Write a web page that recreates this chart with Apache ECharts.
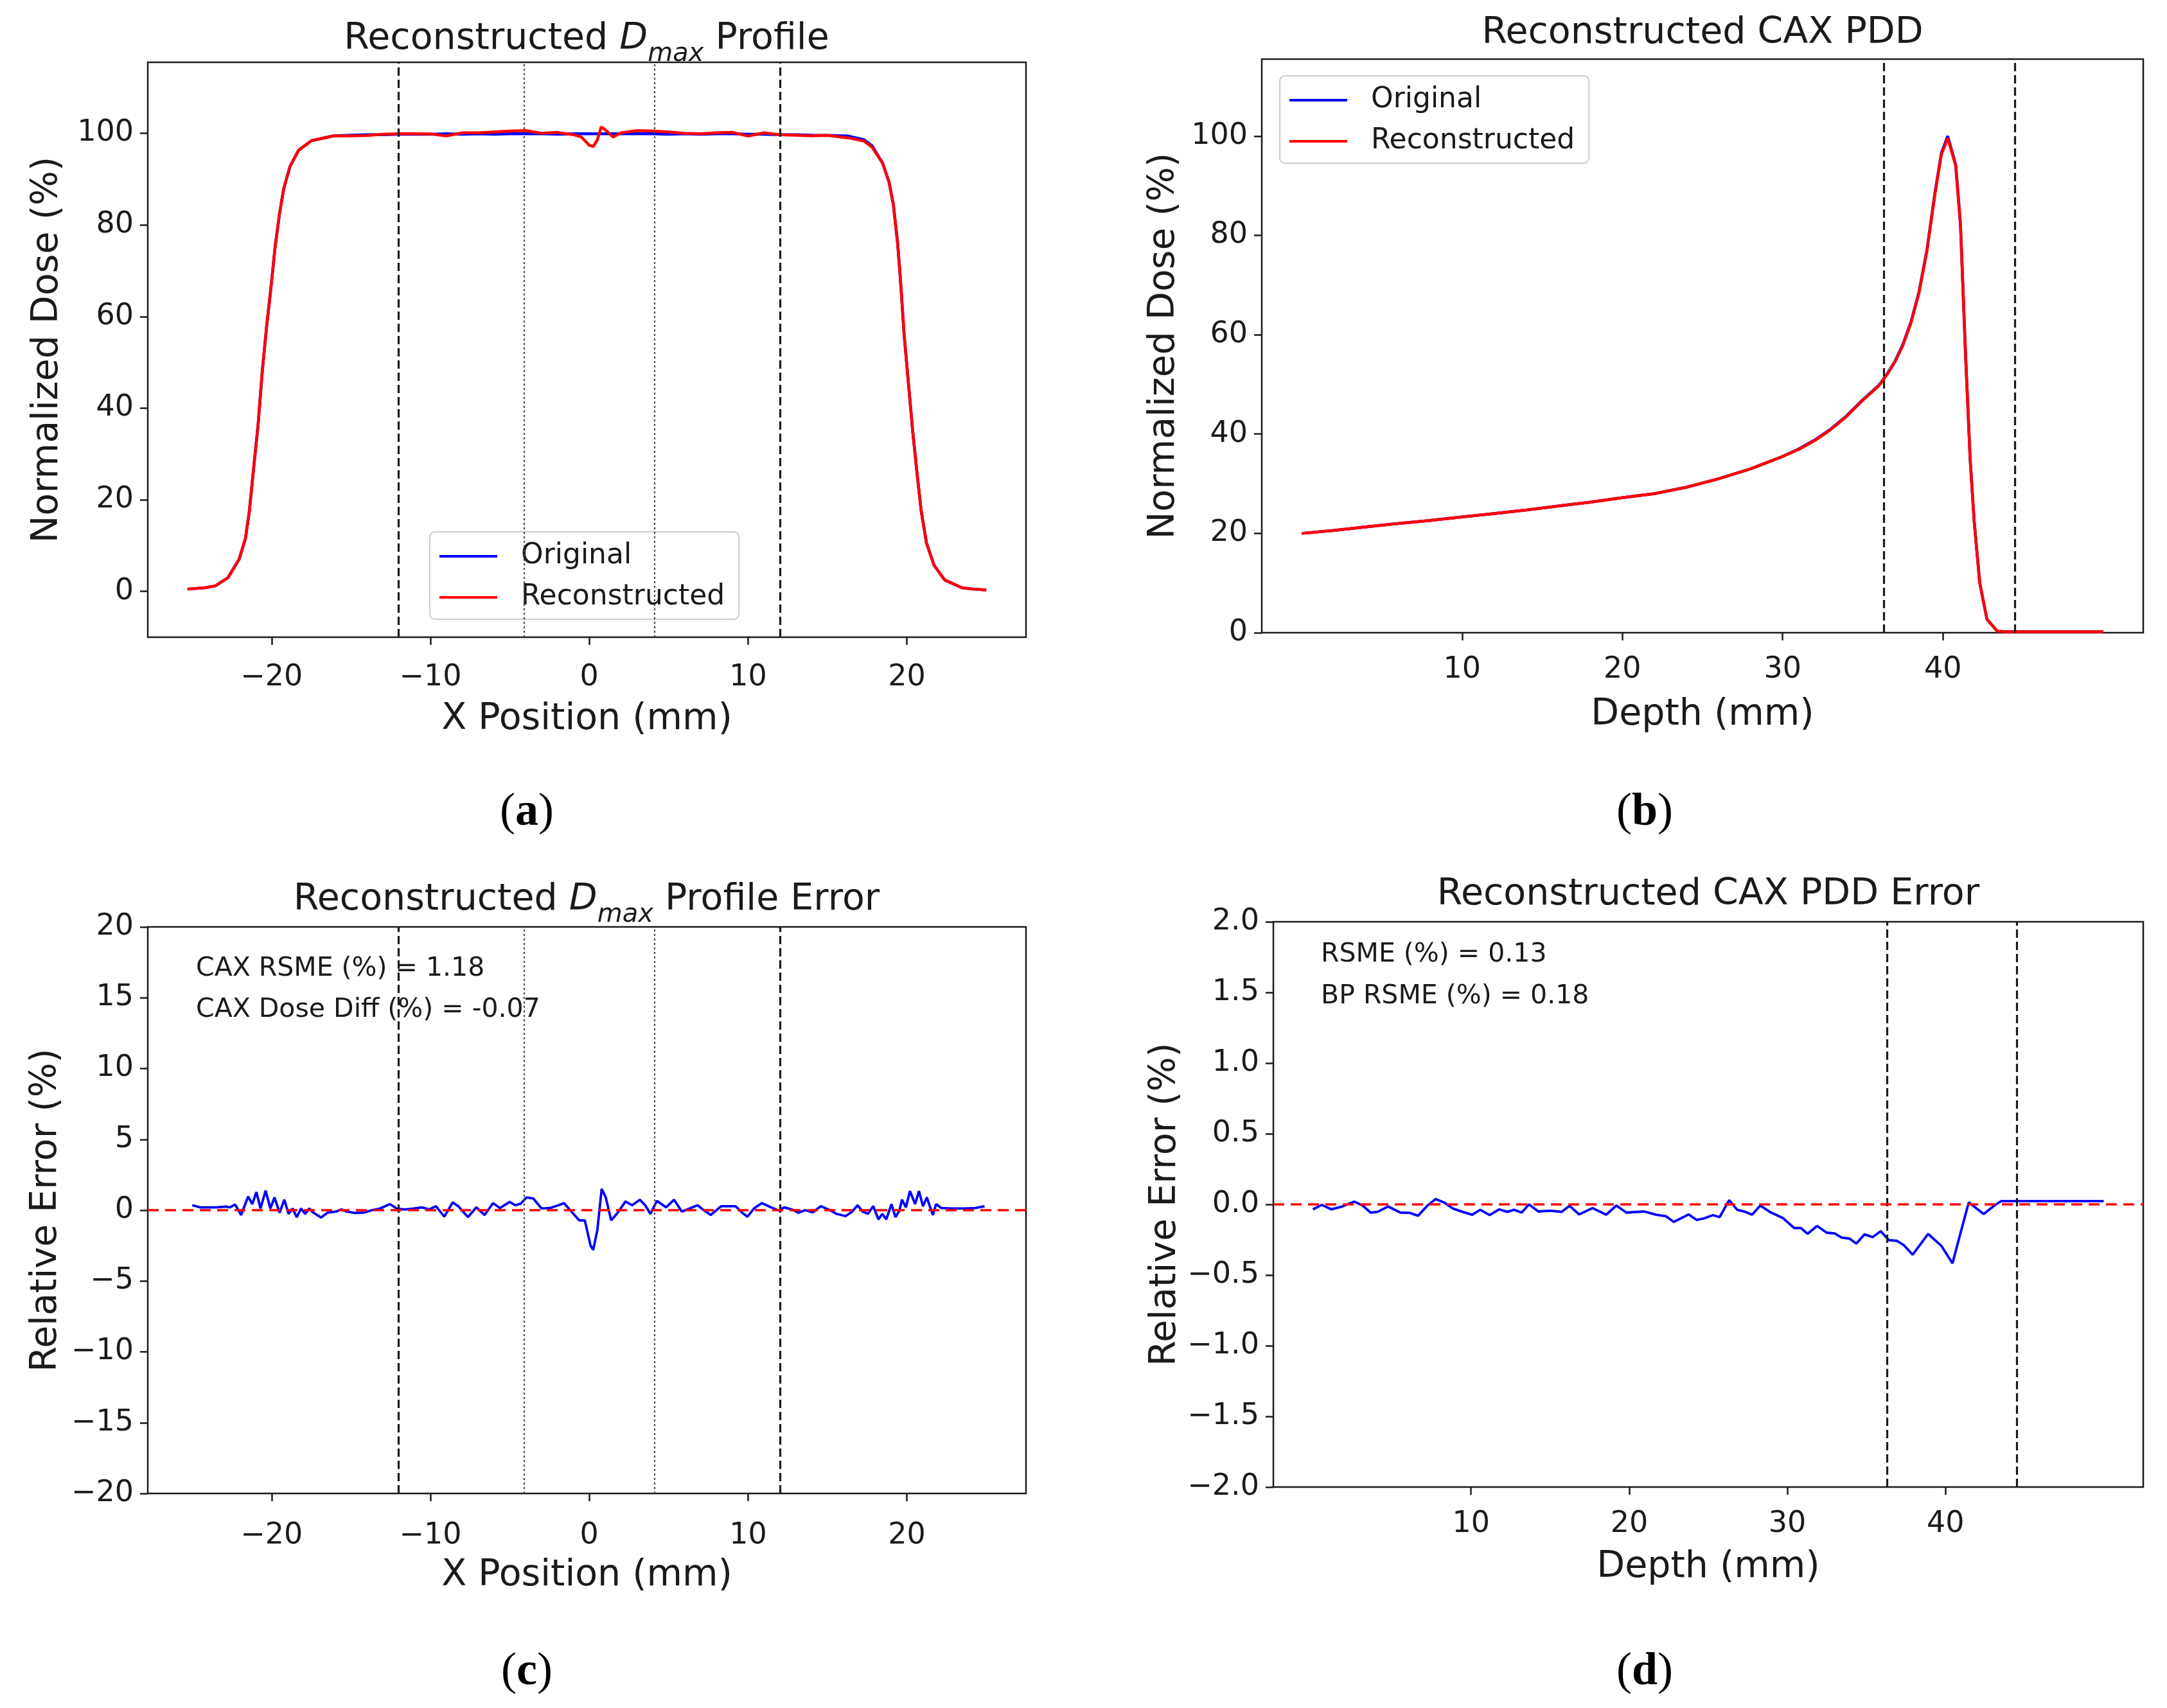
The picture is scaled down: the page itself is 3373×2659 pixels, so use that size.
<!DOCTYPE html>
<html>
<head>
<meta charset="utf-8">
<script src="https://cdn.jsdelivr.net/npm/echarts@6/dist/echarts.min.js"></script>
<style>
  html, body { margin: 0; padding: 0; background: #fff; }
  #chart { width: 3373px; height: 2659px; }
</style>
</head>
<body>
<div id="chart"></div>
<script>
// ---- data ----
// (a) Dmax profile
const profileX = [-25.3, -24.2, -23.55, -22.75, -22.05, -21.65, -21.4, -21.13, -20.85, -20.59, -20.32, -20.05, -19.78, -19.51, -19.24, -18.84, -18.3, -17.49, -16.1,
  -15, -14, -13, -12, -11, -10, -9, -8, -7, -6, -5, -4, -3, -2, -1, -0.5, 0, 0.25, 0.5, 0.75, 1, 1.5, 2, 3, 4, 5, 6, 7, 8, 9, 10, 11, 12, 13, 14, 15,
  16.32, 17.3, 17.8, 18.47, 18.88, 19.15, 19.42, 19.62, 19.82, 20.09, 20.36, 20.63, 20.9, 21.23, 21.71, 22.38, 23.46, 24.2, 25];
const profileOriginal = [0.5, 0.8, 1.2, 3.0, 7.0, 11.5, 17.6, 27.0, 36.5, 48.0, 57.7, 66.1, 75.2, 82.3, 87.9, 92.8, 96.3, 98.4, 99.45,
  99.6, 99.7, 99.7, 99.8, 99.8, 99.8, 99.9, 99.8, 99.9, 99.8, 99.9, 99.9, 99.9, 99.8, 99.9, 99.9, 99.9, 99.9, 99.9, 99.9, 99.9, 99.9, 99.9, 99.9, 99.9, 99.8, 99.9, 99.8, 99.9, 99.9, 99.8, 99.8, 99.7, 99.7, 99.6, 99.55,
  99.4, 98.6, 97.3, 93.5, 89.3, 84.4, 75.9, 66.8, 56.3, 45.7, 35.2, 26.1, 17.6, 10.6, 5.7, 2.5, 0.8, 0.5, 0.3];
const profileRecon = [0.5, 0.8, 1.2, 3.0, 7.0, 11.5, 17.6, 27.0, 36.5, 48.0, 57.7, 66.1, 75.2, 82.3, 87.9, 92.8, 96.3, 98.4, 99.45,
  99.45, 99.5, 99.8, 99.9, 99.9, 99.85, 99.45, 100.1, 100.1, 100.3, 100.5, 100.6, 100.0, 100.2, 99.7, 99.2, 97.4, 97.1, 98.5, 101.4, 100.8, 99.2, 100.1, 100.6, 100.5, 100.3, 100.0, 99.9, 100.1, 100.2, 99.4, 100.1, 99.7, 99.6, 99.45, 99.55,
  99.0, 98.3, 97.0, 93.5, 89.3, 84.4, 75.9, 66.8, 56.3, 45.7, 35.2, 26.1, 17.6, 10.6, 5.7, 2.5, 0.8, 0.5, 0.3];

// (b) CAX PDD
const pddDepth = [0, 2, 4, 6, 8, 10, 12, 14, 16, 18, 20, 22, 24, 26, 28, 30, 31, 32, 33, 34, 35, 36,
  36.5, 37, 37.5, 38, 38.5, 39, 39.5, 39.9, 40.3, 40.8, 41.1, 41.4, 41.7, 41.95, 42.3, 42.75, 43.4, 44, 46, 48, 50];
const pddOriginal = [20.0, 20.6, 21.3, 22.0, 22.6, 23.3, 24.0, 24.7, 25.5, 26.3, 27.2, 28.0, 29.3, 31.0, 33.0, 35.5, 37.0, 38.8, 41.0, 43.7, 46.9, 49.8,
  52.0, 54.6, 58.0, 62.5, 68.5, 77.0, 88.5, 96.5, 100.0, 94.2, 82.0, 57.0, 35.0, 22.5, 10.0, 2.7, 0.3, 0.2, 0.2, 0.2, 0.2];
const pddRecon = [20.0, 20.6, 21.3, 22.0, 22.6, 23.3, 24.0, 24.7, 25.5, 26.3, 27.2, 28.0, 29.3, 31.0, 33.0, 35.5, 36.9, 38.7, 40.9, 43.6, 46.8, 49.7,
  51.9, 54.5, 57.8, 62.3, 68.3, 76.8, 88.2, 96.2, 99.6, 94.0, 82.0, 57.0, 35.0, 22.5, 10.0, 2.7, 0.3, 0.2, 0.2, 0.2, 0.2];

// (c) profile relative error
const profErrX = [-25, -24.5, -23.5, -22.9, -22.62, -22.3, -21.92, -21.48, -21.22, -20.96, -20.7, -20.38, -20.08, -19.82, -19.5, -19.2, -18.94, -18.68, -18.42, -18.15,
  -17.89, -17.63, -17.37, -16.89, -16.49, -15.96, -15.61, -15.26, -14.74, -14.21, -13.69, -13.16, -12.55, -12.11, -11.58, -11.06, -10.53, -10.09, -9.65, -9.13,
  -8.6, -8.25, -7.64, -7.11, -6.59, -6.06, -5.62, -5.01, -4.66, -4.31, -3.96, -3.52, -3.0, -2.47, -1.94, -1.59, -1.06, -0.63, -0.28, 0.08,
  0.25, 0.51, 0.78, 1.04, 1.38, 1.79, 2.28, 2.7, 3.19, 3.52, 3.85, 4.26, 4.84, 5.34, 5.83, 6.33, 6.82, 7.15, 7.65, 8.31,
  8.8, 9.21, 9.63, 9.96, 10.37, 10.86, 11.44, 11.94, 12.27, 12.76, 13.17, 13.59, 14.08, 14.58, 15.07, 15.57, 16.14, 16.56, 16.89, 17.22,
  17.55, 17.88, 18.21, 18.45, 18.7, 19.03, 19.28, 19.53, 19.69, 19.94, 20.19, 20.52, 20.76, 21.01, 21.26, 21.42, 21.64, 21.84, 22.17, 22.83,
  23.65, 24.31, 24.89];
const profErrY = [0.35, 0.2, 0.2, 0.25, 0.2, 0.4, -0.34, 0.97, 0.43, 1.28, 0.12, 1.38, 0.12, 0.9, -0.18, 0.74, -0.26, 0.12, -0.5, 0.12,
  -0.26, 0.12, -0.18, -0.52, -0.18, -0.1, 0.05, -0.1, -0.2, -0.18, 0, 0.12, 0.43, 0.1, 0.05, 0.12, 0.2, 0.05, 0.28, -0.46,
  0.55, 0.28, -0.49, 0.2, -0.34, 0.5, 0.15, 0.58, 0.35, 0.46, 0.9, 0.82, 0.12, 0.15, 0.35, 0.5, -0.18, -0.72, -0.72, -2.5,
  -2.8, -1.4, 1.5, 0.9, -0.72, -0.18, 0.62, 0.35, 0.74, 0.35, -0.26, 0.66, 0.2, 0.74, -0.1, 0.12, 0.35, 0.05, -0.34, 0.28,
  0.28, 0.28, -0.18, -0.46, 0.12, 0.5, 0.2, -0.03, 0.2, 0.05, -0.18, 0, -0.15, 0.28, 0.05, -0.26, -0.42, -0.1, 0.35, -0.1,
  -0.26, 0.28, -0.65, -0.26, -0.65, 0.43, -0.49, -0.03, 0.74, 0.2, 1.35, 0.43, 1.35, 0.28, 0.9, 0.35, -0.34, 0.43, 0.15, 0.12,
  0.12, 0.15, 0.28];

// (d) PDD relative error
const pddErrX = [0, 0.57, 1.17, 1.85, 2.62, 3.14, 3.65, 4.08, 4.76, 5.53, 6.13, 6.65, 7.25, 7.76, 8.27, 8.87, 9.47, 10.07, 10.58, 11.18,
  11.78, 12.29, 12.72, 13.2, 13.66, 14.26, 15.03, 15.72, 16.23, 16.83, 17.68, 18.54, 19.19, 19.82, 20.94, 21.71, 22.31, 22.82, 23.76, 24.27,
  24.7, 25.29, 25.72, 26.32, 26.83, 27.35, 27.77, 28.29, 28.89, 29.74, 30.43, 30.85, 31.28, 31.88, 32.48, 32.99, 33.42, 33.93, 34.36, 34.88,
  35.39, 35.9, 36.42, 36.93, 37.36, 37.92, 38.9, 39.75, 40.44, 40.87, 41.47, 42.41, 43.09, 43.52, 50];
const pddErrY = [-0.035, -0.003, -0.035, -0.015, 0.02, -0.008, -0.058, -0.053, -0.015, -0.058, -0.06, -0.08, -0.008, 0.038, 0.015, -0.03, -0.053, -0.073, -0.038, -0.076,
  -0.035, -0.053, -0.038, -0.058, 0, -0.05, -0.045, -0.053, -0.01, -0.071, -0.026, -0.073, -0.008, -0.058, -0.05, -0.073, -0.083, -0.124, -0.071, -0.11,
  -0.1, -0.076, -0.09, 0.03, -0.038, -0.053, -0.073, -0.008, -0.053, -0.098, -0.167, -0.167, -0.208, -0.152, -0.2, -0.205, -0.235, -0.242, -0.277, -0.212,
  -0.232, -0.19, -0.253, -0.258, -0.288, -0.356, -0.209, -0.295, -0.417, -0.235, 0.015, -0.068, -0.008, 0.023, 0.023];

// reference lines (x positions, mm)
const profileDashed = [-12, 12];
const profileDotted = [-4.1, 4.1];
const pddDashed = [36.3, 44.5];

// tick labels
const profileXTicks = [-20, -10, 0, 10, 20];
const pddXTicks = [10, 20, 30, 40];
const doseTicks = [0, 20, 40, 60, 80, 100];
const profErrTicks = [-20, -15, -10, -5, 0, 5, 10, 15, 20];
const pddErrTicks = [-2, -1.5, -1, -0.5, 0, 0.5, 1, 1.5, 2];

// ---- chart ----
const FONT = 'DejaVu Sans';
const SERIF = 'Liberation Serif';
const INK = '#1a1a1a';
const uminus = s => String(s).replace('-', '\u2212');
const pairs = (xs, ys) => xs.map((x, i) => [x, ys[i]]);

const chart = echarts.init(document.getElementById('chart'), null, { renderer: 'canvas' });

function axis(gridIndex, min, max, ticks, name, nameGap, labelMargin, fmt) {
  return {
    type: 'value', gridIndex: gridIndex, min: min, max: max,
    name: name, nameLocation: 'middle', nameGap: nameGap,
    nameTextStyle: { fontFamily: FONT, fontSize: 57, color: INK },
    axisLine: { show: false, onZero: false },
    axisTick: { show: true, customValues: ticks, length: 12, lineStyle: { color: INK, width: 2.5 } },
    axisLabel: { customValues: ticks, formatter: fmt || uminus, fontFamily: FONT, fontSize: 46, color: INK, margin: labelMargin },
    splitLine: { show: false }
  };
}

function vlines(dashed, dotted) {
  const d = dashed.map(x => ({ xAxis: x, lineStyle: { type: [13, 6], color: INK, width: 3.2 } }));
  const t = dotted.map(x => ({ xAxis: x, lineStyle: { type: [3, 4], color: '#444', width: 2.2 } }));
  return { silent: true, symbol: ['none', 'none'], label: { show: false }, animation: false, data: d.concat(t) };
}

function zeroLine() {
  return {
    silent: true, symbol: ['none', 'none'], label: { show: false }, animation: false,
    data: [{ yAxis: 0, lineStyle: { type: [17, 10], color: '#ff0000', width: 3.5 } }]
  };
}

function line(name, xi, data, color, width, extra) {
  return Object.assign({
    name: name, type: 'line', xAxisIndex: xi, yAxisIndex: xi, data: data,
    symbol: 'none', showSymbol: false, animation: false,
    lineStyle: { color: color, width: width }, itemStyle: { color: color }
  }, extra || {});
}

const gridStyle = { show: true, borderColor: INK, borderWidth: 2.5, backgroundColor: 'transparent' };

const legendBase = {
  data: [{ name: 'Original', icon: 'rect' }, { name: 'Reconstructed', icon: 'rect' }],
  orient: 'vertical', selectedMode: false,
  padding: [16, 22, 12, 15], itemGap: 20, itemWidth: 90, itemHeight: 4,
  backgroundColor: 'rgba(255,255,255,0.85)', borderColor: '#cccccc', borderWidth: 2, borderRadius: 8,
  textStyle: { fontFamily: FONT, fontSize: 44, color: INK, padding: [0, 0, 0, 32] }
};

const titleRich = {
  n: { fontFamily: FONT, fontSize: 57, fill: INK, lineHeight: 72, verticalAlign: 'top' },
  i: { fontFamily: FONT, fontSize: 57, fontStyle: 'italic', fill: INK, lineHeight: 72, verticalAlign: 'top' },
  s: { fontFamily: FONT, fontSize: 40, fontStyle: 'italic', fill: INK, lineHeight: 44, verticalAlign: 'bottom' }
};
const panelRich = {
  p: { fontFamily: SERIF, fontSize: 72, fill: '#000' },
  b: { fontFamily: SERIF, fontSize: 72, fontWeight: 'bold', fill: '#000' }
};

function textEl(x, y, text, align, rich, size) {
  return {
    type: 'text', x: x, y: y, silent: true,
    style: { text: text, rich: rich, fontFamily: FONT, fontSize: size || 41, fill: INK,
      align: align || 'center', verticalAlign: 'middle' }
  };
}

const option = {
  backgroundColor: '#ffffff',
  grid: [
    Object.assign({ left: 230, top: 97, width: 1367, height: 895 }, gridStyle),
    Object.assign({ left: 1964, top: 92, width: 1372, height: 893 }, gridStyle),
    Object.assign({ left: 230, top: 1443, width: 1367, height: 882 }, gridStyle),
    Object.assign({ left: 1982, top: 1435, width: 1354, height: 880 }, gridStyle)
  ],
  xAxis: [
    axis(0, -27.8, 27.5, profileXTicks, 'X Position (mm)', 100, 40),
    axis(1, -2.5, 52.5, pddXTicks, 'Depth (mm)', 100, 35),
    axis(2, -27.8, 27.5, profileXTicks, 'X Position (mm)', 100, 43),
    axis(3, -2.5, 52.5, pddXTicks, 'Depth (mm)', 97, 35)
  ],
  yAxis: [
    axis(0, -10, 115.5, doseTicks, 'Normalized Dose (%)', 127, 22),
    axis(1, 0, 115.5, doseTicks, 'Normalized Dose (%)', 123, 22),
    axis(2, -20, 20, profErrTicks, 'Relative Error (%)', 129, 22),
    axis(3, -2, 2, pddErrTicks, 'Relative Error (%)', 139, 22, v => uminus(v.toFixed(1)))
  ],
  legend: [
    Object.assign({ left: 669, top: 828 }, legendBase),
    Object.assign({ left: 1992, top: 118 }, legendBase)
  ],
  series: [
    line('Original', 0, pairs(profileX, profileOriginal), '#0000ff', 4.5, { markLine: vlines(profileDashed, profileDotted) }),
    line('Reconstructed', 0, pairs(profileX, profileRecon), '#ff0000', 4.5),
    line('Original', 1, pairs(pddDepth, pddOriginal), '#0000ff', 4.5, { markLine: vlines(pddDashed, []) }),
    line('Reconstructed', 1, pairs(pddDepth, pddRecon), '#ff0000', 4.5),
    line('Profile error', 2, pairs(profErrX, profErrY), '#0000ff', 3.8),
    line('Profile error lines', 2, [], '#000', 1, { markLine: vlines(profileDashed, profileDotted) }),
    line('Profile zero', 2, [], '#ff0000', 1, { markLine: zeroLine() }),
    line('PDD error', 3, pairs(pddErrX, pddErrY), '#0000ff', 3.8),
    line('PDD error lines', 3, [], '#000', 1, { markLine: vlines(pddDashed, []) }),
    line('PDD zero', 3, [], '#ff0000', 1, { markLine: zeroLine() })
  ],
  graphic: [
    textEl(913, 69, '{n|Reconstructed }{i|D}{s|max}{n| Profile}', 'center', titleRich),
    textEl(2650, 60, '{n|Reconstructed CAX PDD}', 'center', titleRich),
    textEl(913, 1409, '{n|Reconstructed }{i|D}{s|max}{n| Profile Error}', 'center', titleRich),
    textEl(2659, 1401, '{n|Reconstructed CAX PDD Error}', 'center', titleRich),
    textEl(305, 1508, 'CAX RSME (%) = 1.18', 'left'),
    textEl(305, 1572, 'CAX Dose Diff (%) = -0.07', 'left'),
    textEl(2056, 1486, 'RSME (%) = 0.13', 'left'),
    textEl(2056, 1551, 'BP RSME (%) = 0.18', 'left'),
    textEl(820, 1265, '{p|(}{b|a}{p|)}', 'center', panelRich),
    textEl(2560, 1265, '{p|(}{b|b}{p|)}', 'center', panelRich),
    textEl(820, 2603, '{p|(}{b|c}{p|)}', 'center', panelRich),
    textEl(2560, 2603, '{p|(}{b|d}{p|)}', 'center', panelRich)
  ]
};

chart.setOption(option);
</script>
</body>
</html>
